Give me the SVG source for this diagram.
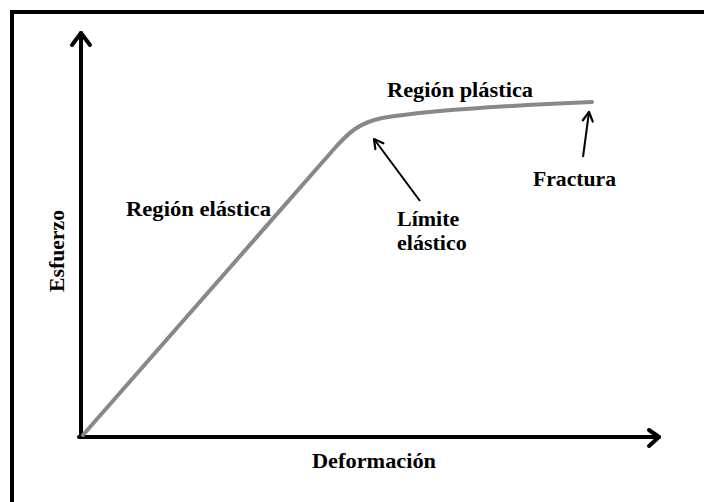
<svg xmlns="http://www.w3.org/2000/svg" width="704" height="502" viewBox="0 0 704 502">
<style>
.lbl{font-family:"Liberation Serif","Times New Roman",serif;font-weight:bold;font-size:22px;fill:#000}
.axis{fill:none;stroke:#000;stroke-width:4;stroke-linecap:round;stroke-linejoin:round}
.ptr{fill:none;stroke:#000;stroke-width:2}
.curve{fill:none;stroke:#888;stroke-width:4;stroke-linecap:round;stroke-linejoin:round}
</style>
<defs>
<marker id="head" markerUnits="userSpaceOnUse" markerWidth="14" markerHeight="14" viewBox="-12 -7 14 14" refX="0" refY="0" orient="auto">
<path d="M-9,-5 L0,0 L-9,5" fill="none" stroke="#000" stroke-width="2.2" stroke-linecap="round" stroke-linejoin="round"/>
</marker>
</defs>
<rect x="12" y="12" width="720" height="520" fill="#fff" stroke="#000" stroke-width="4"/>
<g id="axes">
<g id="y-axis"><path class="axis" d="M81,437 L81,33"/><path class="axis" d="M72,45 L81,33 L90,45"/></g>
<g id="x-axis"><path class="axis" d="M79,437 L659,437"/><path class="axis" d="M649,430 L659,437 L649,446"/></g>
</g>
<g id="curve"><path class="curve" d="M83,435 L334,149 C349,132 359,123 382,118 C430,110 520,105 592,102"/></g>
<g id="connectors">
<line class="ptr" x1="420" y1="201" x2="374" y2="139" marker-end="url(#head)"/>
<line class="ptr" x1="583" y1="157" x2="589" y2="112" marker-end="url(#head)"/>
</g>
<g id="labels">
<text class="lbl" x="387" y="97" textLength="146" lengthAdjust="spacingAndGlyphs">Región plástica</text>
<text class="lbl" x="126" y="216" textLength="145" lengthAdjust="spacingAndGlyphs">Región elástica</text>
<text class="lbl" x="397" y="226">Límite</text>
<text class="lbl" x="397" y="250">elástico</text>
<text class="lbl" x="533" y="186" textLength="83" lengthAdjust="spacingAndGlyphs">Fractura</text>
<text class="lbl" x="312" y="468" textLength="124" lengthAdjust="spacingAndGlyphs">Deformación</text>
<text class="lbl" transform="translate(64,292) rotate(-90)" x="0" y="0" textLength="82" lengthAdjust="spacingAndGlyphs">Esfuerzo</text>
</g>
</svg>
